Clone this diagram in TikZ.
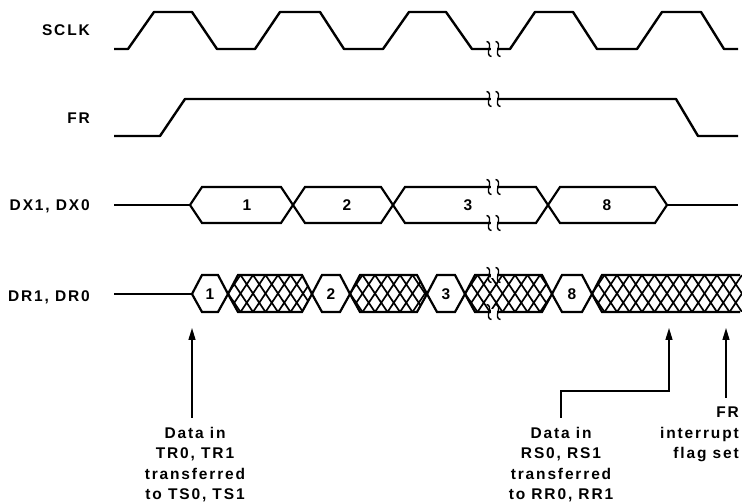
\documentclass[tikz,border=0pt]{standalone}
\usepackage{fontspec}
\setmainfont{Liberation Sans}[LetterSpace=12]
\usetikzlibrary{arrows.meta}
\newcommand\dxhex[2]{\draw[hexline] (#1,205)--(#1+12,187)--(#2-12,187)--(#2,205)--(#2-12,223)--(#1+12,223)--cycle;}
\newcommand\drhex[2]{\draw[hexline] (#1,294)--(#1+10,275)--(#2-10,275)--(#2,294)--(#2-10,312)--(#1+10,312)--cycle;}
\newcommand\drhatch[2]{%
  \begin{scope}
    \clip (#1,294)--(#1+10,275)--(#2-10,275)--(#2,294)--(#2-10,312)--(#1+10,312)--cycle;
    \foreach \k in {-3,...,14}{%
      \draw[hatch] (#1+\k*12.5,312)--++(25,-37);
      \draw[hatch] (#1+\k*12.5,275)--++(25,37);}
  \end{scope}
  \drhex{#1}{#2}}
\newcommand\brkpair[1]{%
  \fill[white] (490.5,#1-3) rectangle (496.5,#1+3);
  \pic at (489,#1) {brk};
  \pic at (498,#1) {brk};}
\begin{document}
\begin{tikzpicture}[x=1pt,y=-1pt,
  sig/.style={line width=2.4pt,line join=round},
  hexline/.style={line width=2.2pt,line join=miter},
  hatch/.style={line width=1.7pt},
  lbl/.style={font=\fontsize{15.5}{20}\selectfont\bfseries,inner sep=0pt},
  note/.style={font=\fontsize{15.5}{20.3}\selectfont\bfseries,inner sep=0pt,align=center},
  arr/.style={line width=1.4pt,-{Triangle[length=12pt,width=7pt]}},
  brk/.pic={\draw[line width=1.4pt] (-2.5,-7.5) .. controls (1,-7.5) and (1,-3) .. (0,0) .. controls (-1,3) and (-1,7.5) .. (2.5,7.5);}
]
\useasboundingbox (0,0) rectangle (742,502);
\fill[white] (0,0) rectangle (742,502);

% row labels
\node[lbl,anchor=base east] (lsclk) at (90,35.5) {SCLK};
\node[lbl,anchor=base east] (lfr) at (90,123.5) {FR};
\node[lbl,anchor=base east] (ldx) at (90,210.5) {DX1, DX0};
\node[lbl,anchor=base east] (ldr) at (90,301.5) {DR1, DR0};

% SCLK
\draw[sig] (114,49)--(128,49)--(154,12)--(192,12)--(217,49)--(255,49)--(280,12)--(320,12)--(344,49)--(383,49)--(409,12)--(446,12)--(472,49)--(510,49)--(535,12)--(573,12)--(597,49)--(637,49)--(662,12)--(701,12)--(724,49)--(738,49);
\brkpair{49}

% FR
\draw[sig] (114,136)--(160,136)--(185,99)--(676,99)--(698,136)--(738,136);
\brkpair{99}

% DX
\draw[hexline] (114,205)--(190,205);
\dxhex{190}{293}
\dxhex{293}{393}
\dxhex{393}{548}
\dxhex{548}{667}
\draw[hexline] (667,205)--(738,205);
\brkpair{187}
\brkpair{223}
\node[lbl,anchor=base] (dx1) at (247,210.5) {1};
\node[lbl,anchor=base] (dx2) at (347,210.5) {2};
\node[lbl,anchor=base] (dx3) at (468,210.5) {3};
\node[lbl,anchor=base] (dx8) at (607,210.5) {8};

% DR
\draw[hexline] (114,294)--(192,294);
\drhex{192}{228}
\drhatch{228}{312}
\drhex{312}{350}
\drhatch{350}{427}
\drhex{427}{465}
\drhatch{465}{552}
\drhex{552}{592}
\begin{scope}
  \clip (592,294)--(602,275)--(745,275)--(745,312)--(602,312)--cycle;
  \foreach \k in {-3,...,14}{%
    \draw[hatch] (592+\k*12.5,312)--++(25,-37);
    \draw[hatch] (592+\k*12.5,275)--++(25,37);}
\end{scope}
\draw[hexline] (740,275)--(602,275)--(592,294)--(602,312)--(740,312);
\brkpair{275}
\brkpair{312}
\node[lbl,anchor=base] (dr1) at (210,299.5) {1};
\node[lbl,anchor=base] (dr2) at (331,299.5) {2};
\node[lbl,anchor=base] (dr3) at (446,299.5) {3};
\node[lbl,anchor=base] (dr8) at (572,299.5) {8};

% annotations
\node[note,anchor=north] (t1) at (195,427) {Data in\\TR0, TR1\\transferred\\to TS0, TS1};
\node[note,anchor=north] (t2) at (561,427) {Data in\\RS0, RS1\\transferred\\to RR0, RR1};
\node[note,align=right,anchor=north east] (t3) at (739,407) {FR\\interrupt\\flag set};
\coordinate (a1) at (192,328);
\coordinate (a2) at (669,328);
\coordinate (k2) at (669,391);
\coordinate (a3) at (726,328);
\draw[arr,shorten <=9pt] (a1 |- t1.north) -- (a1);
\draw[arr,shorten <=9pt] (t2.north) |- (k2) -- (a2);
\draw[arr,shorten <=9pt] (a3 |- t3.north) -- (a3);
\end{tikzpicture}
\end{document}
